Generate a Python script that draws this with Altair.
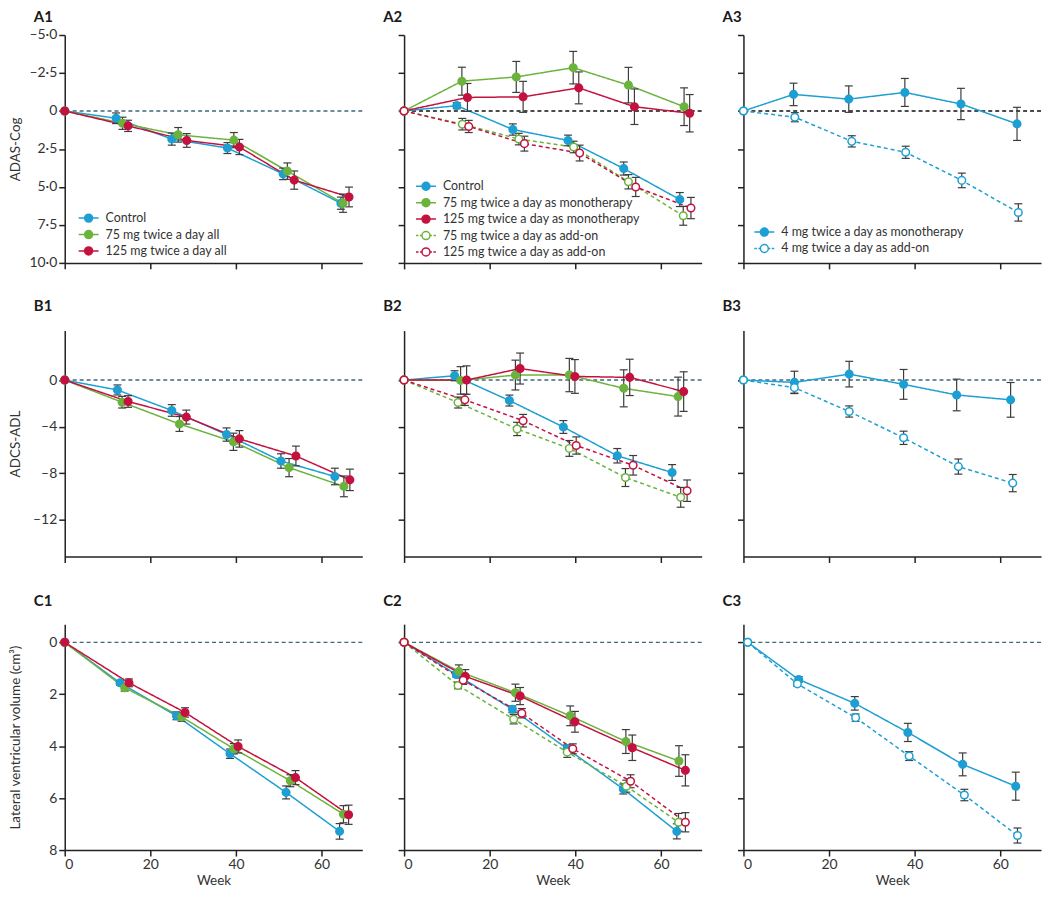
import altair as alt
import pandas as pd

# ---------------- series labels ----------------
CTRL = "Control"
ALL75 = "75 mg twice a day all"
ALL125 = "125 mg twice a day all"
MONO75 = "75 mg twice a day as monotherapy"
MONO125 = "125 mg twice a day as monotherapy"
ADD75 = "75 mg twice a day as add-on"
ADD125 = "125 mg twice a day as add-on"
MONO4 = "4 mg twice a day as monotherapy"
ADD4 = "4 mg twice a day as add-on"

# ---------------- A: ADAS-Cog ----------------
A1_CTRL_WK = [0, 12, 25, 38, 51, 64.5]
A1_CTRL_VAL = [0, 0.48, 1.85, 2.44, 4.14, 6.07]
A1_CTRL_ERR = [0, 0.35, 0.4, 0.36, 0.38, 0.4]
A1_75_WK = [0, 13.5, 26.5, 39.5, 52, 65]
A1_75_VAL = [0, 0.81, 1.57, 1.92, 3.96, 6.07]
A1_75_ERR = [0, 0.4, 0.48, 0.5, 0.54, 0.6]
A1_125_WK = [0, 14.8, 28.5, 40.8, 53.6, 66.4]
A1_125_VAL = [0, 0.98, 1.94, 2.37, 4.55, 5.66]
A1_125_ERR = [0, 0.37, 0.45, 0.5, 0.6, 0.65]

A2_CTRL_WK = [0, 12.3, 25.4, 38.3, 51.3, 64.4]
A2_CTRL_VAL = [0, -0.35, 1.22, 1.94, 3.79, 5.83]
A2_CTRL_ERR = [0, 0.2, 0.37, 0.35, 0.43, 0.46]
A2_M75_WK = [0, 13.5, 26.2, 39.5, 52.4, 65.4]
A2_M75_VAL = [0, -1.96, -2.24, -2.85, -1.7, -0.28]
A2_M75_ERR = [0, 0.92, 1.02, 1.07, 1.17, 1.24]
A2_M125_WK = [0, 14.8, 27.8, 40.8, 53.8, 66.7]
A2_M125_VAL = [0, -0.89, -0.93, -1.52, -0.28, 0.15]
A2_M125_ERR = [0, 0.92, 1.02, 1.05, 1.17, 1.23]
A2_A75_WK = [0, 13.6, 26.8, 39.6, 52.4, 65.2]
A2_A75_VAL = [0, 0.87, 1.85, 2.37, 4.66, 6.9]
A2_A75_ERR = [0, 0.38, 0.38, 0.38, 0.47, 0.62]
A2_A125_WK = [0, 15.1, 28.1, 41, 54.1, 67]
A2_A125_VAL = [0, 1.02, 2.15, 2.77, 5.0, 6.39]
A2_A125_ERR = [0, 0.4, 0.49, 0.52, 0.63, 0.7]

A3_M4_WK = [0, 11.7, 24.6, 37.7, 50.8, 63.9]
A3_M4_VAL = [0, -1.09, -0.78, -1.22, -0.46, 0.85]
A3_M4_ERR = [0, 0.74, 0.87, 0.92, 1.03, 1.09]
A3_A4_WK = [0, 12, 25.3, 37.9, 51, 64.2]
A3_A4_VAL = [0, 0.41, 2.0, 2.72, 4.57, 6.68]
A3_A4_ERR = [0, 0.3, 0.37, 0.4, 0.48, 0.57]

# ---------------- B: ADCS-ADL ----------------
B1_CTRL_WK = [0, 12.3, 25, 37.8, 50.5, 63.1]
B1_CTRL_VAL = [0, -0.85, -2.61, -4.68, -6.95, -8.28]
B1_CTRL_ERR = [0, 0.43, 0.5, 0.57, 0.62, 0.71]
B1_75_WK = [0, 13.4, 26.8, 39.4, 52.4, 65.2]
B1_75_VAL = [0, -1.9, -3.77, -5.3, -7.52, -9.13]
B1_75_ERR = [0, 0.5, 0.64, 0.74, 0.78, 0.89]
B1_125_WK = [0, 14.8, 28.4, 40.8, 54, 66.6]
B1_125_VAL = [0, -1.84, -3.18, -5.05, -6.52, -8.57]
B1_125_ERR = [0, 0.5, 0.6, 0.71, 0.85, 0.92]

B2_CTRL_WK = [0, 11.8, 24.6, 37.2, 49.8, 62.6]
B2_CTRL_VAL = [0, 0.37, -1.76, -4.03, -6.5, -7.94]
B2_CTRL_ERR = [0, 0.43, 0.47, 0.55, 0.62, 0.68]
B2_M75_WK = [0, 13.2, 26, 38.6, 51.3, 64]
B2_M75_VAL = [0, -0.03, 0.43, 0.43, -0.71, -1.42]
B2_M75_ERR = [0, 1.18, 1.28, 1.43, 1.59, 1.67]
B2_M125_WK = [0, 14.6, 27.1, 39.9, 52.7, 65.3]
B2_M125_VAL = [0, 0.0, 0.99, 0.31, 0.23, -0.99]
B2_M125_ERR = [0, 1.22, 1.33, 1.45, 1.56, 1.7]
B2_A75_WK = [0, 12.6, 26.4, 38.6, 51.7, 64.6]
B2_A75_VAL = [0, -1.93, -4.2, -5.87, -8.37, -10.07]
B2_A75_ERR = [0, 0.47, 0.57, 0.68, 0.77, 0.85]
B2_A125_WK = [0, 14.2, 27.8, 40.2, 53.5, 66.1]
B2_A125_VAL = [0, -1.7, -3.49, -5.62, -7.32, -9.5]
B2_A125_ERR = [0, 0.48, 0.54, 0.74, 0.84, 0.92]

B3_M4_WK = [0, 11.9, 24.7, 37.4, 49.8, 62.4]
B3_M4_VAL = [0, -0.2, 0.51, -0.37, -1.28, -1.7]
B3_M4_ERR = [0, 0.96, 1.1, 1.28, 1.36, 1.49]
B3_A4_WK = [0, 11.9, 24.7, 37.4, 50.2, 62.9]
B3_A4_VAL = [0, -0.65, -2.7, -4.96, -7.43, -8.85]
B3_A4_ERR = [0, 0.47, 0.48, 0.57, 0.65, 0.74]

# ---------------- C: lateral ventricular volume ----------------
C1_CTRL_WK = [0, 12.9, 26.1, 38.6, 51.7, 64.2]
C1_CTRL_VAL = [0, 1.56, 2.83, 4.29, 5.78, 7.28]
C1_CTRL_ERR = [0, 0.09, 0.15, 0.18, 0.25, 0.3]
C1_75_WK = [0, 14, 27.3, 39.5, 52.7, 65.1]
C1_75_VAL = [0, 1.75, 2.87, 4.1, 5.33, 6.62]
C1_75_ERR = [0, 0.13, 0.17, 0.2, 0.23, 0.33]
C1_125_WK = [0, 15, 28.1, 40.5, 53.9, 66.3]
C1_125_VAL = [0, 1.56, 2.7, 4.01, 5.21, 6.64]
C1_125_ERR = [0, 0.15, 0.18, 0.25, 0.27, 0.37]

C2_CTRL_WK = [0, 12.2, 25.3, 38.1, 51.2, 63.7]
C2_CTRL_VAL = [0, 1.24, 2.58, 4.1, 5.65, 7.28]
C2_CTRL_ERR = [0, 0.1, 0.13, 0.15, 0.19, 0.29]
C2_M75_WK = [0, 12.8, 26, 38.8, 51.8, 64.2]
C2_M75_VAL = [0, 1.12, 1.94, 2.83, 3.82, 4.57]
C2_M75_ERR = [0, 0.25, 0.33, 0.38, 0.46, 0.59]
C2_M125_WK = [0, 14.3, 27.1, 39.9, 53.3, 65.7]
C2_M125_VAL = [0, 1.31, 2.07, 3.06, 4.06, 4.93]
C2_M125_ERR = [0, 0.26, 0.33, 0.4, 0.49, 0.6]
C2_A75_WK = [0, 12.6, 25.6, 38.1, 51.9, 64.1]
C2_A75_VAL = [0, 1.66, 2.96, 4.23, 5.54, 6.93]
C2_A75_ERR = [0, 0.13, 0.18, 0.2, 0.23, 0.34]
C2_A125_WK = [0, 13.8, 27.5, 39.4, 52.9, 65.7]
C2_A125_VAL = [0, 1.46, 2.73, 4.1, 5.35, 6.93]
C2_A125_ERR = [0, 0.16, 0.18, 0.19, 0.25, 0.37]

C3_M4_WK = [1, 12.9, 26, 38.4, 51.2, 63.6]
C3_M4_VAL = [0, 1.43, 2.35, 3.47, 4.7, 5.54]
C3_M4_ERR = [0, 0.11, 0.26, 0.35, 0.44, 0.54]
C3_A4_WK = [1, 12.6, 26.2, 38.7, 51.6, 64]
C3_A4_VAL = [0, 1.6, 2.9, 4.38, 5.88, 7.44]
C3_A4_ERR = [0, 0.09, 0.14, 0.17, 0.22, 0.29]

# ---------------- axis setup per row ----------------
A_TICKS = [-5, -2.5, 0, 2.5, 5, 7.5, 10]
B_TICKS = [0, -4, -8, -12]
C_TICKS = [0, 2, 4, 6, 8]
X_TICKS = [0, 20, 40, 60]
X_MAX = 69.5

# ---------------- style ----------------
BLUE = "#1d9fd3"
GREEN = "#6bb33c"
RED = "#c5113f"
ERRC = "#3c3c3c"
SLATE = "#3e687c"
TXT = "#333333"
FONT = "Lato"

COLOR = {CTRL: BLUE, ALL75: GREEN, ALL125: RED, MONO75: GREEN, MONO125: RED,
         ADD75: GREEN, ADD125: RED, MONO4: BLUE, ADD4: BLUE}
ADDON = {ADD75, ADD125, ADD4}

SOLID_PATH = ("M-1.667,0H-0.667M0.667,0H1.667"
              "M0.667,0A0.667,0.667,0,1,1,-0.667,0A0.667,0.667,0,1,1,0.667,0Z")
DASH_PATH = ("M-1.667,0H-1.25M-1.0,0H-0.667M0.667,0H1.0M1.25,0H1.667"
             "M0.667,0A0.667,0.667,0,1,1,-0.667,0A0.667,0.667,0,1,1,0.667,0Z")

ROWCFG = {
    0: dict(domain=[-5, 10], reverse=True, ticks=A_TICKS, height=229,
            expr="datum.value == 0 ? '0' : (datum.value < 0 ? '\u2013' : '') + replace(format(abs(datum.value), '.1f'), '.', '\u00b7')",
            title="ADAS-Cog", ty=-13),
    1: dict(domain=[-15.15, 4.25], reverse=False, ticks=B_TICKS, height=227,
            expr="(datum.value < 0 ? '\u2013' : '') + format(abs(datum.value), 'd')",
            title="ADCS-ADL", ty=-20),
    2: dict(domain=[-0.7, 8], reverse=True, ticks=C_TICKS, height=227,
            expr="format(datum.value, 'd')",
            title="Lateral ventricular volume (cm\u00b3)", ty=-18),
}
WIDTH = 299


def panel(tag, row, col, series, zero_color, legend_pos=None):
    labels = [s[0] for s in series]
    colors = [COLOR[l] for l in labels]
    fills = ["white" if l in ADDON else COLOR[l] for l in labels]
    dashes = [[4, 3] if l in ADDON else [1, 0] for l in labels]
    paths = [DASH_PATH if l in ADDON else SOLID_PATH for l in labels]
    recs = []
    for lab, wk, val, err in series:
        for w, v, e in zip(wk, val, err):
            recs.append({"series": lab, "wk": w, "val": v, "lo": v - e, "hi": v + e, "err": e})
    df = pd.DataFrame(recs)
    dfe = df[df["err"] > 0]
    cfg = ROWCFG[row]
    first = col == 0
    bottom = row == 2

    yscale = alt.Scale(domain=cfg["domain"], reverse=cfg["reverse"], nice=False, zero=False)
    xscale = alt.Scale(domain=[0, X_MAX], nice=False, zero=False)
    if first:
        yaxis = alt.Axis(values=cfg["ticks"], labelExpr=cfg["expr"], title=cfg["title"],
                         titleX=-42, titleBaseline="bottom")
    else:
        yaxis = alt.Axis(values=cfg["ticks"], labels=False, title=None)
    if bottom:
        xaxis = alt.Axis(values=X_TICKS, title="Week")
    else:
        xaxis = alt.Axis(values=X_TICKS, labels=False, title=None)

    X = alt.X("wk:Q", scale=xscale, axis=xaxis)

    def Y(f):
        return alt.Y(f"{f}:Q", scale=yscale, axis=yaxis)

    cscale = alt.Scale(domain=labels, range=colors)
    fscale = alt.Scale(domain=labels, range=fills)
    dscale = alt.Scale(domain=labels, range=dashes)

    zero = alt.Chart(pd.DataFrame({"val": [0]})).mark_rule(
        color=zero_color, strokeDash=[4, 3], strokeWidth=1.4).encode(y=Y("val"))
    lines = alt.Chart(df).mark_line(strokeWidth=1.5).encode(
        x=X, y=Y("val"),
        color=alt.Color("series:N", scale=cscale, legend=None),
        strokeDash=alt.StrokeDash("series:N", scale=dscale, legend=None))
    bars = alt.Chart(dfe).mark_rule(color=ERRC, strokeWidth=1.2).encode(
        x=X, y=Y("lo"), y2="hi:Q")
    cap_lo = alt.Chart(dfe).mark_rule(color=ERRC, strokeWidth=1.2, xOffset=-4, x2Offset=4).encode(
        x=X, x2="wk:Q", y=Y("lo"))
    cap_hi = alt.Chart(dfe).mark_rule(color=ERRC, strokeWidth=1.2, xOffset=-4, x2Offset=4).encode(
        x=X, x2="wk:Q", y=Y("hi"))
    pts = alt.Chart(df).mark_point(filled=True, shape="circle", size=58, strokeWidth=1.5, opacity=1).encode(
        x=X, y=Y("val"),
        fill=alt.Fill("series:N", scale=fscale, legend=None),
        stroke=alt.Stroke("series:N", scale=cscale, legend=None))
    label = alt.Chart(pd.DataFrame({"tag": [tag]})).mark_text(
        align="left", baseline="alphabetic", fontSize=15, fontWeight="bold",
        font=FONT, color="#1a1a1a").encode(
        x=alt.value(-31 if first else -21), y=alt.value(cfg["ty"]), text="tag:N")
    layers = [zero, lines, bars, cap_lo, cap_hi, pts, label]
    if legend_pos is not None:
        lx, ly = legend_pos
        leg = alt.Legend(orient="none", legendX=lx, legendY=ly, title=None,
                         symbolSize=144, symbolStrokeWidth=1.5, symbolOpacity=1,
                         labelFont=FONT, labelFontSize=12.5, labelColor=TXT, labelLimit=400,
                         labelOffset=10, rowPadding=0.5, padding=0)
        legl = alt.Chart(pd.DataFrame({"series": labels})).mark_point(filled=True, opacity=0).encode(
            shape=alt.Shape("series:N", scale=alt.Scale(domain=labels, range=paths), legend=leg),
            fill=alt.Fill("series:N", scale=fscale, legend=leg),
            stroke=alt.Stroke("series:N", scale=cscale, legend=leg))
        layers.append(legl)
    ch = alt.layer(*layers).resolve_scale(fill="independent", stroke="independent",
                                           shape="independent")
    return ch.properties(width=WIDTH, height=cfg["height"])


a1 = panel("A1", 0, 0, [(CTRL, A1_CTRL_WK, A1_CTRL_VAL, A1_CTRL_ERR),
                        (ALL75, A1_75_WK, A1_75_VAL, A1_75_ERR),
                        (ALL125, A1_125_WK, A1_125_VAL, A1_125_ERR)], SLATE, (17, 177))
a2 = panel("A2", 0, 1, [(CTRL, A2_CTRL_WK, A2_CTRL_VAL, A2_CTRL_ERR),
                        (MONO75, A2_M75_WK, A2_M75_VAL, A2_M75_ERR),
                        (MONO125, A2_M125_WK, A2_M125_VAL, A2_M125_ERR),
                        (ADD75, A2_A75_WK, A2_A75_VAL, A2_A75_ERR),
                        (ADD125, A2_A125_WK, A2_A125_VAL, A2_A125_ERR)], "#111111", (15, 145))
a3 = panel("A3", 0, 2, [(MONO4, A3_M4_WK, A3_M4_VAL, A3_M4_ERR),
                        (ADD4, A3_A4_WK, A3_A4_VAL, A3_A4_ERR)], "#111111", (14, 191))
b1 = panel("B1", 1, 0, [(CTRL, B1_CTRL_WK, B1_CTRL_VAL, B1_CTRL_ERR),
                        (ALL75, B1_75_WK, B1_75_VAL, B1_75_ERR),
                        (ALL125, B1_125_WK, B1_125_VAL, B1_125_ERR)], SLATE)
b2 = panel("B2", 1, 1, [(CTRL, B2_CTRL_WK, B2_CTRL_VAL, B2_CTRL_ERR),
                        (MONO75, B2_M75_WK, B2_M75_VAL, B2_M75_ERR),
                        (MONO125, B2_M125_WK, B2_M125_VAL, B2_M125_ERR),
                        (ADD75, B2_A75_WK, B2_A75_VAL, B2_A75_ERR),
                        (ADD125, B2_A125_WK, B2_A125_VAL, B2_A125_ERR)], SLATE)
b3 = panel("B3", 1, 2, [(MONO4, B3_M4_WK, B3_M4_VAL, B3_M4_ERR),
                        (ADD4, B3_A4_WK, B3_A4_VAL, B3_A4_ERR)], SLATE)
c1 = panel("C1", 2, 0, [(CTRL, C1_CTRL_WK, C1_CTRL_VAL, C1_CTRL_ERR),
                        (ALL75, C1_75_WK, C1_75_VAL, C1_75_ERR),
                        (ALL125, C1_125_WK, C1_125_VAL, C1_125_ERR)], SLATE)
c2 = panel("C2", 2, 1, [(CTRL, C2_CTRL_WK, C2_CTRL_VAL, C2_CTRL_ERR),
                        (MONO75, C2_M75_WK, C2_M75_VAL, C2_M75_ERR),
                        (MONO125, C2_M125_WK, C2_M125_VAL, C2_M125_ERR),
                        (ADD75, C2_A75_WK, C2_A75_VAL, C2_A75_ERR),
                        (ADD125, C2_A125_WK, C2_A125_VAL, C2_A125_ERR)], SLATE)
c3 = panel("C3", 2, 2, [(MONO4, C3_M4_WK, C3_M4_VAL, C3_M4_ERR),
                        (ADD4, C3_A4_WK, C3_A4_VAL, C3_A4_ERR)], SLATE)

chart = alt.concat(a1, a2, a3, b1, b2, b3, c1, c2, c3, columns=3,
                   spacing={"row": 68, "column": 42}, bounds="flush").resolve_scale(
    color="independent", stroke="independent", fill="independent",
    shape="independent", strokeDash="independent"
).properties(
    padding=0, background="white"
).configure_view(stroke=None).configure_axis(
    grid=False, domainColor="#222222", domainWidth=1.5, tickColor="#222222", tickWidth=1.5,
    tickSize=6, labelFont=FONT, labelFontSize=14, labelColor=TXT, labelPadding=2,
    titleFont=FONT, titleFontSize=13.5, titleFontWeight="normal", titleColor=TXT, titlePadding=2
)

chart.save("out.html", embed_options={"renderer": "svg", "actions": False})
